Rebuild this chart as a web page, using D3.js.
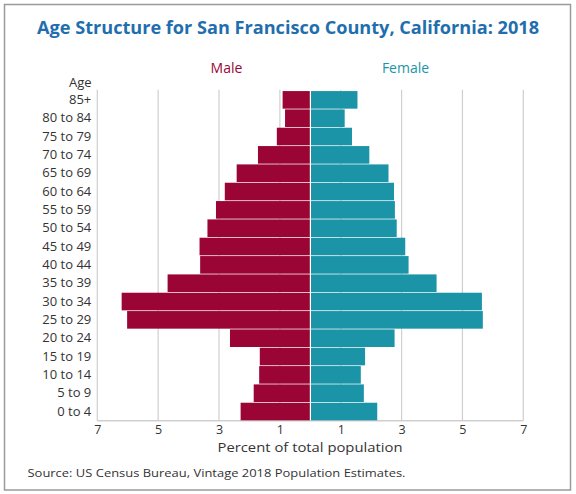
<!DOCTYPE html>
<html><head><meta charset="utf-8">
<script src="https://cdn.jsdelivr.net/npm/d3@7"></script>
<style>
html,body{margin:0;padding:0;background:#fff;}
svg{display:block;font-family:"Open Sans","Noto Sans",sans-serif;}
</style></head>
<body>
<svg id="chart" width="576" height="494"></svg>
<script>
const ageGroups = ["0 to 4","5 to 9","10 to 14","15 to 19","20 to 24","25 to 29","30 to 34","35 to 39","40 to 44","45 to 49","50 to 54","55 to 59","60 to 64","65 to 69","70 to 74","75 to 79","80 to 84","85+"];
const maleValues = [2.29,1.86,1.68,1.66,2.64,6.02,6.20,4.69,3.62,3.64,3.38,3.10,2.81,2.42,1.72,1.10,0.83,0.91];
const femaleValues = [2.20,1.76,1.66,1.80,2.77,5.67,5.64,4.15,3.23,3.12,2.84,2.78,2.75,2.57,1.94,1.37,1.13,1.55];
const tickValues = [-7,-5,-3,-1,1,3,5,7];

const titleText = "Age Structure for San Francisco County, California: 2018";
const sourceText = "Source: US Census Bureau, Vintage 2018 Population Estimates.";

const colors = {male:"#9b0535", female:"#1c94a8", title:"#1f6eae", grid:"#cfcfcf", text:"#333"};

const svg = d3.select("#chart");

// outer border
svg.append("rect").attr("x",4.5).attr("y",4.5).attr("width",566).attr("height",485.5)
  .attr("fill","#fff").attr("stroke","#9a9a9a").attr("stroke-width",1.5);

const plotLeft = 97.3, plotRight = 523.3, plotTop = 90.7, plotBottom = 420.7;
const x = d3.scaleLinear().domain([-7,7]).range([plotLeft,plotRight]);
const y = d3.scaleBand().domain(ageGroups.slice().reverse()).range([plotTop,plotBottom]).paddingInner(0.04).paddingOuter(0.02);
const x0 = x(0);

// gridlines
svg.append("g").selectAll("line").data(tickValues).join("line")
  .attr("x1",d=>x(d)).attr("x2",d=>x(d)).attr("y1",plotTop-1).attr("y2",plotBottom)
  .attr("stroke",colors.grid).attr("stroke-width",1.2);
// bottom frame
svg.append("line").attr("x1",plotLeft).attr("x2",plotRight).attr("y1",plotBottom).attr("y2",plotBottom)
  .attr("stroke",colors.grid).attr("stroke-width",1.5);

// bars
const data = ageGroups.map((a,i)=>({age:a,m:maleValues[i],f:femaleValues[i]}));
svg.append("g").selectAll("rect").data(data).join("rect")
  .attr("x",d=>x(-d.m)).attr("width",d=>x0-0.5-x(-d.m))
  .attr("y",d=>y(d.age)).attr("height",y.bandwidth()).attr("fill",colors.male);
svg.append("g").selectAll("rect").data(data).join("rect")
  .attr("x",x0+0.7).attr("width",d=>x(d.f)-x0-0.7)
  .attr("y",d=>y(d.age)).attr("height",y.bandwidth()).attr("fill",colors.female);

// y axis labels
const yAxis = d3.axisLeft(y).tickSize(0).tickPadding(6);
const gy = svg.append("g").attr("transform",`translate(${plotLeft},0)`).call(yAxis);
gy.select(".domain").remove();
gy.selectAll("text").attr("font-size",13).attr("fill",colors.text).attr("font-family","Open Sans, sans-serif");

// x axis labels
const xAxis = d3.axisBottom(x).tickValues(tickValues).tickFormat(d=>Math.abs(d)).tickSize(0).tickPadding(4);
const gx = svg.append("g").attr("transform",`translate(0,${plotBottom})`).call(xAxis);
gx.select(".domain").remove();
gx.selectAll("text").attr("font-size",12.5).attr("fill",colors.text).attr("font-family","Open Sans, sans-serif");

// texts
svg.append("text").attr("x",288).attr("y",34.3).attr("text-anchor","middle")
  .attr("font-size",17.5).attr("font-weight",700).attr("fill",colors.title)
  .attr("textLength",502).attr("lengthAdjust","spacingAndGlyphs").text(titleText);
svg.append("text").attr("x",226.5).attr("y",73.3).attr("text-anchor","middle")
  .attr("font-size",14).attr("fill",colors.male).text("Male");
svg.append("text").attr("x",405.5).attr("y",73.3).attr("text-anchor","middle")
  .attr("font-size",14).attr("fill",colors.female).text("Female");
svg.append("text").attr("x",91.5).attr("y",87.3).attr("text-anchor","end")
  .attr("font-size",13).attr("fill",colors.text).text("Age");
svg.append("text").attr("x",310).attr("y",451.5).attr("text-anchor","middle")
  .attr("font-size",13.5).attr("fill",colors.text)
  .attr("textLength",185).attr("lengthAdjust","spacingAndGlyphs").text("Percent of total population");
svg.append("text").attr("x",27.5).attr("y",476.7).attr("text-anchor","start")
  .attr("font-size",11.5).attr("fill",colors.text)
  .attr("textLength",378).attr("lengthAdjust","spacingAndGlyphs").text(sourceText);
</script>
</body></html>
